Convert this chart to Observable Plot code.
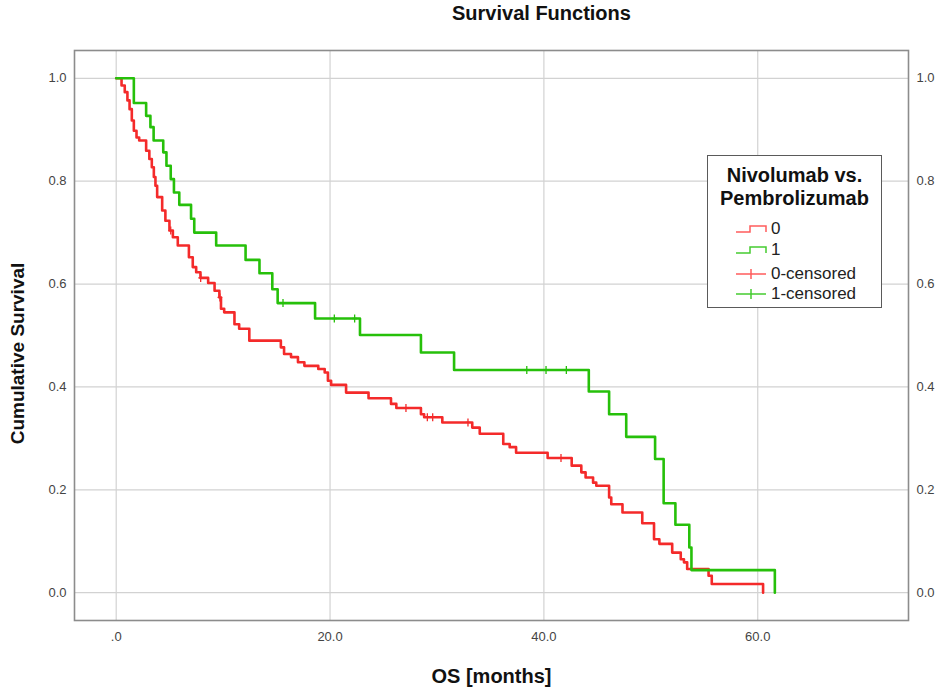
<!DOCTYPE html>
<html><head><meta charset="utf-8">
<script src="https://cdn.jsdelivr.net/npm/d3@7"></script>
<script src="https://cdn.jsdelivr.net/npm/@observablehq/plot@0.6"></script>
<style>
body{margin:0;background:#fff;font-family:"Liberation Sans",Arial,sans-serif;}
#wrap{position:relative;width:945px;height:697px;overflow:hidden;}
#title{position:absolute;left:452px;top:2px;font-size:20px;font-weight:bold;line-height:22px;white-space:nowrap;color:#111;}
#chart{position:absolute;left:0;top:32px;}
#legend{position:absolute;left:707px;top:155px;width:173px;height:151px;border:1.5px solid #5a5a5a;background:#fff;}
#legend .lt{position:absolute;left:0;width:173px;text-align:center;font-size:20px;font-weight:bold;line-height:23px;color:#111;}
#legend .row{position:absolute;left:28px;height:20px;display:flex;align-items:center;font-size:17px;color:#222;}
#legend .row svg{margin-right:3px;}
</style></head>
<body><div id="wrap"><div id="title">Survival Functions</div><div id="chart"></div><div id="legend"></div></div>
<script>
// ---- data ----
const redT = [0,0.5,0.8,1.05,1.25,1.46,1.65,1.9,2.15,2.8,3.1,3.33,3.52,3.67,3.83,4.3,4.6,4.98,5.3,5.76,6.8,7.16,7.48,7.88,8.6,9.2,9.65,9.8,10.1,11.06,11.5,12.45,15.4,15.7,16.35,17.0,17.6,18.9,19.5,19.8,20.1,21.5,23.6,25.7,26.2,28.5,28.8,30.5,33.3,34.0,36.2,36.8,37.4,40.35,42.6,43.5,43.9,44.6,44.9,46.1,46.3,47.35,49.2,50.3,50.8,52.0,52.8,53.1,53.4,55.4,55.7,60.5];
const redS = [1,0.986,0.973,0.957,0.940,0.918,0.898,0.885,0.879,0.859,0.843,0.827,0.808,0.791,0.769,0.743,0.723,0.704,0.691,0.675,0.652,0.633,0.623,0.612,0.602,0.587,0.574,0.552,0.545,0.522,0.513,0.490,0.477,0.464,0.458,0.448,0.441,0.435,0.428,0.412,0.404,0.389,0.378,0.367,0.359,0.347,0.341,0.331,0.321,0.309,0.289,0.283,0.272,0.262,0.247,0.234,0.224,0.214,0.208,0.185,0.172,0.156,0.135,0.104,0.095,0.078,0.065,0.059,0.046,0.033,0.017,0];
const greenT = [0,1.65,2.8,3.2,3.5,4.4,4.7,5.1,5.4,5.9,7.0,7.3,9.35,12.1,13.4,14.6,15.1,18.6,22.8,28.5,31.6,44.2,46.1,47.7,50.4,51.2,52.3,53.6,53.8,61.6];
const greenS = [1,0.952,0.927,0.905,0.879,0.856,0.830,0.804,0.778,0.754,0.727,0.700,0.675,0.647,0.621,0.590,0.563,0.533,0.501,0.467,0.433,0.391,0.347,0.303,0.260,0.174,0.132,0.088,0.044,0];
const redCensT = [5.1,7.9,9.7,27.1,29.1,29.6,32.9,41.6];
const greenCensT = [15.6,20.4,22.3,38.4,40.2,42.1];
const xTicks = [0,20,40,60];
const xTickLabels = [".0","20.0","40.0","60.0"];
const yTicks = [0,0.2,0.4,0.6,0.8,1.0];
const yTickLabels = ["0.0","0.2","0.4","0.6","0.8","1.0"];
const groupNames = ["0","1"];
const legendTitle = ["Nivolumab vs.","Pembrolizumab"];
const legendItems = ["0","1","0-censored","1-censored"];
const RED = "#f42a2a", GREEN = "#26c00a";

// ---- build ----
function stepAt(T,S,t){let v=S[0];for(let i=0;i<T.length;i++){if(T[i]<=t)v=S[i];}return v;}
const redData = redT.map((t,i)=>({t,s:redS[i]}));
const greenData = greenT.map((t,i)=>({t,s:greenS[i]}));
const redCens = redCensT.map(t=>({t,s:stepAt(redT,redS,t)}));
const greenCens = greenCensT.map(t=>({t,s:stepAt(greenT,greenS,t)}));
const censSym = {draw(ctx,size){const r=Math.sqrt(size/Math.PI);ctx.moveTo(0,-r);ctx.lineTo(0,r);ctx.moveTo(-r*0.6,0);ctx.lineTo(r*0.6,0);}};

const chart = Plot.plot({
  width: 945, height: 665,
  marginTop: 18, marginBottom: 77, marginLeft: 74, marginRight: 37,
  style: {fontFamily: "Liberation Sans, Arial, sans-serif", fontSize: "13px", color: "#444", background: "#fff"},
  x: {domain: [-3.9, 74.1], ticks: xTicks, tickFormat: d => xTickLabels[xTicks.indexOf(d)], tickSize: 0, tickPadding: 11.5, label: null},
  y: {domain: [-0.054, 1.054], ticks: yTicks, tickFormat: d => yTickLabels[yTicks.findIndex(v => Math.abs(v-d)<1e-9)], tickSize: 0, tickPadding: 8, label: null, axis: "both"},
  marks: [
    Plot.ruleX(xTicks, {stroke: "#d2d2d2", strokeWidth: 1.2}),
    Plot.ruleY(yTicks, {stroke: "#d2d2d2", strokeWidth: 1.2}),
    Plot.frame({stroke: "#8c8c8c", strokeWidth: 1.6}),
    Plot.line(redData, {x: "t", y: "s", curve: "step-after", stroke: RED, strokeWidth: 2.6}),
    Plot.dot(redCens, {x: "t", y: "s", symbol: censSym, r: 4, stroke: RED, fill: "none", strokeWidth: 1.3}),
    Plot.line(greenData, {x: "t", y: "s", curve: "step-after", stroke: GREEN, strokeWidth: 2.6}),
    Plot.dot(greenCens, {x: "t", y: "s", symbol: censSym, r: 4, stroke: GREEN, fill: "none", strokeWidth: 1.3}),
    Plot.text(["OS [months]"], {frameAnchor: "bottom", text: d => d, dy: 56, textAnchor: "middle", lineAnchor: "middle", fontSize: 20, fontWeight: "bold", fill: "#111"}),
    Plot.text(["Cumulative Survival"], {frameAnchor: "left", text: d => d, rotate: -90, dx: -56.5, dy: 18, textAnchor: "middle", lineAnchor: "middle", fontSize: 19, fontWeight: "bold", fill: "#111"})
  ]
});
document.getElementById("chart").appendChild(chart);

// ---- legend ----
const leg = document.getElementById("legend");
legendTitle.forEach((t,i)=>{const d=document.createElement("div");d.className="lt";d.style.top=(8+i*23)+"px";d.textContent=t;leg.appendChild(d);});
const LRED="#ff5c5c", LGREEN="#45cc30";
const icons = [
  `<svg width="32" height="12"><polyline points="0,9 14,9 14,3 30,3 30,9" fill="none" stroke="${LRED}" stroke-width="1.5"/></svg>`,
  `<svg width="32" height="12"><polyline points="0,9 14,9 14,3 30,3 30,9" fill="none" stroke="${LGREEN}" stroke-width="1.5"/></svg>`,
  `<svg width="32" height="12"><path d="M0,6H30M15,1V11" fill="none" stroke="${LRED}" stroke-width="1.5"/></svg>`,
  `<svg width="32" height="12"><path d="M0,6H30M15,1V11" fill="none" stroke="${LGREEN}" stroke-width="1.5"/></svg>`
];
const rowCenters = [73,94,118,138];
legendItems.forEach((t,i)=>{const d=document.createElement("div");d.className="row";d.style.top=(rowCenters[i]-10)+"px";d.innerHTML=icons[i]+"<span>"+t+"</span>";leg.appendChild(d);});
</script></body></html>
